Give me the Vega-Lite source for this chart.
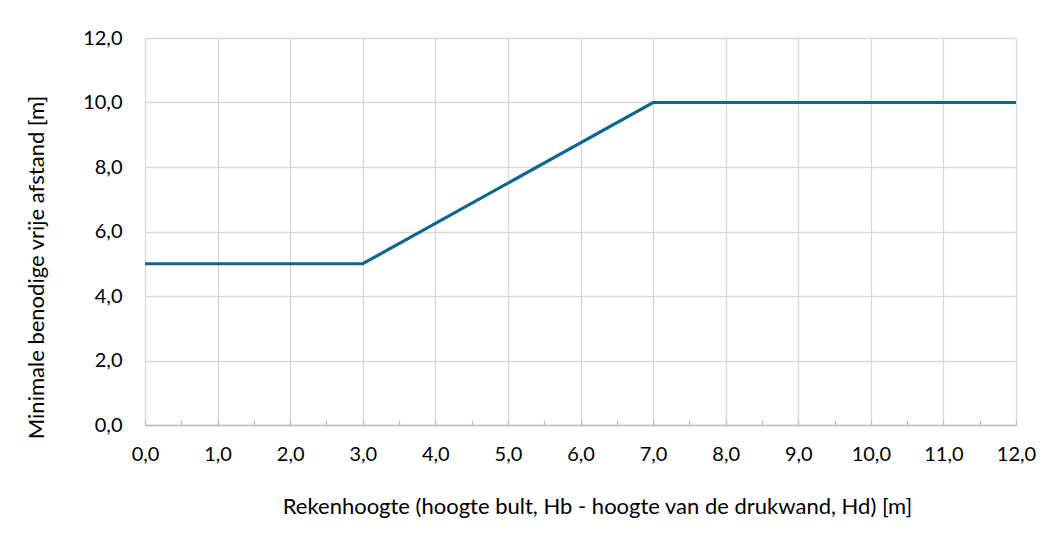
{
  "$schema": "https://vega.github.io/schema/vega-lite/v6.json",
  "width": 871,
  "height": 387,
  "autosize": {"type": "none"},
  "padding": {"left": 145, "top": 38, "right": 36, "bottom": 109},
  "background": "white",
  "config": {
    "view": {"stroke": null},
    "font": "Lato",
    "axis": {"labelFont": "Lato", "titleFont": "Lato", "labelColor": "#000000", "titleColor": "#000000", "labelFontSize": 20, "titleFontSize": 22, "titleFontWeight": "normal"}
  },
  "data": {
    "values": [
      {"h": 0, "afstand": 5},
      {"h": 3, "afstand": 5},
      {"h": 7, "afstand": 10},
      {"h": 12, "afstand": 10}
    ]
  },
  "mark": {"type": "line", "color": "#10668f", "strokeWidth": 3.2, "clip": false},
  "encoding": {
    "x": {
      "field": "h",
      "type": "quantitative",
      "scale": {"domain": [0, 12], "nice": false, "zero": false},
      "axis": {
        "title": "Rekenhoogte (hoogte bult, Hb - hoogte van de drukwand, Hd) [m]",
        "values": [0, 0.5, 1, 1.5, 2, 2.5, 3, 3.5, 4, 4.5, 5, 5.5, 6, 6.5, 7, 7.5, 8, 8.5, 9, 9.5, 10, 10.5, 11, 11.5, 12],
        "labelExpr": "datum.value % 1 === 0 ? replace(format(datum.value, '.1f'), '.', ',') : ''",
        "labelOverlap": false,
        "labelFlush": false,
        "labelBound": false,
        "labelPadding": 24,
        "grid": true,
        "gridColor": "#d9d9d9",
        "gridWidth": 1.3,
        "gridOpacity": {"condition": {"test": "datum.value % 1 !== 0", "value": 0}, "value": 1},
        "domainColor": "#bfbfbf",
        "domainWidth": 1.5,
        "tickColor": "#bfbfbf",
        "tickSize": -5,
        "tickWidth": 1.3,
        "titlePadding": 32,
        "titleX": 452,
        "titleAnchor": "middle"
      }
    },
    "y": {
      "field": "afstand",
      "type": "quantitative",
      "scale": {"domain": [0, 12], "nice": false},
      "axis": {
        "title": "Minimale benodige vrije afstand [m]",
        "values": [0, 2, 4, 6, 8, 10, 12],
        "labelExpr": "replace(format(datum.value, '.1f'), '.', ',')",
        "labelPadding": 23,
        "grid": true,
        "gridColor": "#d9d9d9",
        "gridWidth": 1.3,
        "domain": false,
        "ticks": false,
        "titlePadding": 34,
        "titleY": 229,
        "titleAnchor": "middle"
      }
    }
  }
}
